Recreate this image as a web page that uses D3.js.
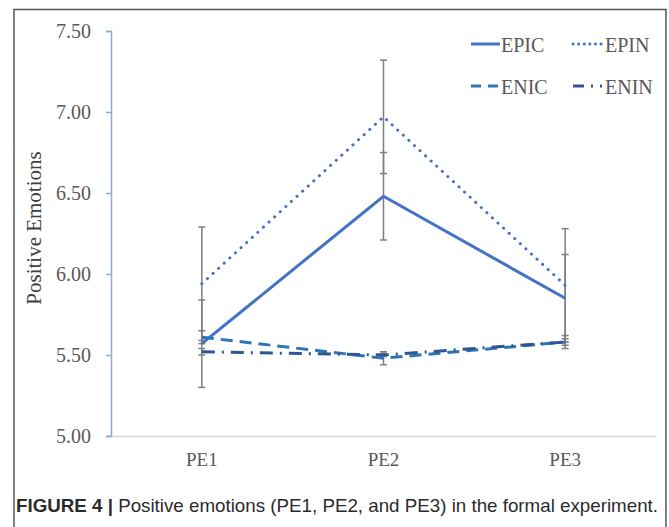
<!DOCTYPE html>
<html>
<head>
<meta charset="utf-8">
<script src="https://cdn.jsdelivr.net/npm/d3@7"></script>
<style>
  body { margin: 0; background: #fff; }
  svg { display: block; }
</style>
</head>
<body>
<div id="chart"></div>
<script>
var categories = ["PE1", "PE2", "PE3"]
var seriesNames = ["EPIC", "EPIN", "ENIC", "ENIN"]
var epic = [5.57, 6.48, 5.85]
var epin = [5.94, 6.97, 5.93]
var enic = [5.61, 5.48, 5.58]
var enin = [5.52, 5.50, 5.58]
var epicErr = [0.27, 0.27, 0.27]
var epinErr = [0.35, 0.35, 0.35]
var enicErr = [0.04, 0.04, 0.04]
var eninErr = [0.02, 0.01, 0.02]
var yTicks = [5.00, 5.50, 6.00, 6.50, 7.00, 7.50]

var series = [
  { name: "EPIC", values: epic, err: epicErr, color: "#4472c4", dash: null, cap: "butt" },
  { name: "EPIN", values: epin, err: epinErr, color: "#4472c4", dash: "0.1 7.5", cap: "round" },
  { name: "ENIC", values: enic, err: enicErr, color: "#2e75b6", dash: "12 7", cap: "butt" },
  { name: "ENIN", values: enin, err: eninErr, color: "#2f5597", dash: "13 7 2 7", cap: "butt" }
]

var width = 669, height = 527
var margin = { top: 31, right: 13, bottom: 91, left: 111 }
var plotW = width - margin.left - margin.right
var plotH = height - margin.top - margin.bottom

var svg = d3.select("#chart")
  .append("svg")
  .attr("width", width)
  .attr("height", height)

// frame
svg.append("path")
  .attr("d", "M14,540 L14,9.5 L666,9.5 L666,540")
  .attr("fill", "none")
  .attr("stroke", "#555")
  .attr("stroke-width", 1.5)

var g = svg.append("g")
  .attr("transform", "translate(" + margin.left + "," + margin.top + ")")

var x = d3.scaleBand()
  .domain(categories)
  .range([0, plotW])

var y = d3.scaleLinear()
  .domain([5, 7.5])
  .range([plotH, 0])

// x axis
var xAxis = g.append("g")
  .attr("transform", "translate(0," + plotH + ")")
  .call(d3.axisBottom(x).tickSize(0).tickPadding(17))
xAxis.select(".domain").attr("stroke", "#d9d9d9").attr("stroke-width", 1.5)
xAxis.selectAll("text")
  .style("font-family", "'Liberation Serif', serif")
  .style("font-size", "19px")
  .attr("fill", "#595959")

// y axis
var yAxis = g.append("g")
  .call(d3.axisLeft(y).tickValues(yTicks).tickFormat(d3.format(".2f")).tickSize(5).tickSizeOuter(5).tickPadding(15))
yAxis.select(".domain").attr("stroke", "#8eaadb").attr("stroke-width", 1.5)
yAxis.selectAll(".tick line").attr("stroke", "#8eaadb").attr("stroke-width", 1.5)
yAxis.selectAll("text")
  .style("font-family", "'Liberation Serif', serif")
  .style("font-size", "20px")
  .attr("fill", "#595959")

svg.append("text")
  .attr("transform", "translate(41,228) rotate(-90)")
  .attr("text-anchor", "middle")
  .style("font-family", "'Liberation Serif', serif")
  .style("font-size", "21px")
  .attr("fill", "#404040")
  .text("Positive Emotions")

var cx = function (i) { return x(categories[i]) + x.bandwidth() / 2 }

// error bars
series.forEach(function (s) {
  var eb = g.append("g")
  s.values.forEach(function (v, i) {
    var lo = y(v - s.err[i]), hi = y(v + s.err[i])
    eb.append("line")
      .attr("x1", cx(i)).attr("x2", cx(i))
      .attr("y1", lo).attr("y2", hi)
      .attr("stroke", "#7f7f7f").attr("stroke-width", 1.5)
    ;[lo, hi].forEach(function (yy) {
      eb.append("line")
        .attr("x1", cx(i) - 3.5).attr("x2", cx(i) + 3.5)
        .attr("y1", yy).attr("y2", yy)
        .attr("stroke", "#7f7f7f").attr("stroke-width", 1.5)
    })
  })
})

// lines
var line = d3.line()
  .x(function (d, i) { return cx(i) })
  .y(function (d) { return y(d) })

series.forEach(function (s) {
  g.append("path")
    .datum(s.values)
    .attr("d", line)
    .attr("fill", "none")
    .attr("stroke", s.color)
    .attr("stroke-width", 3)
    .attr("stroke-linecap", s.cap)
    .attr("stroke-dasharray", s.dash)
})

// legend
var legendPos = [[471, 44], [573, 44], [471, 86], [573, 86]]
series.forEach(function (s, i) {
  var lx = legendPos[i][0], ly = legendPos[i][1]
  svg.append("line")
    .attr("x1", lx).attr("x2", lx + 29)
    .attr("y1", ly).attr("y2", ly)
    .attr("stroke", s.color)
    .attr("stroke-width", 3)
    .attr("stroke-linecap", s.cap)
    .attr("stroke-dasharray", s.name === "EPIN" ? "0.1 5.5" : s.name === "ENIC" ? "10 7" : s.name === "ENIN" ? "11 7 2 7" : null)
  svg.append("text")
    .attr("x", lx + 30 + (s.name === "EPIN" || s.name === "ENIN" ? 2 : 0))
    .attr("y", ly + 8)
    .style("font-family", "'Liberation Serif', serif")
    .style("font-size", "20px")
    .attr("fill", "#595959")
    .text(s.name)
})

// caption
var cap = svg.append("text")
  .attr("x", 16)
  .attr("y", 512)
  .style("font-family", "'Liberation Sans', sans-serif")
  .style("font-size", "19px")
  .attr("fill", "#2b2b2b")
  .attr("textLength", 642)
  .attr("lengthAdjust", "spacingAndGlyphs")
cap.append("tspan").attr("font-weight", "bold").text("FIGURE 4 | ")
cap.append("tspan").text("Positive emotions (PE1, PE2, and PE3) in the formal experiment.")
</script>
</body>
</html>
